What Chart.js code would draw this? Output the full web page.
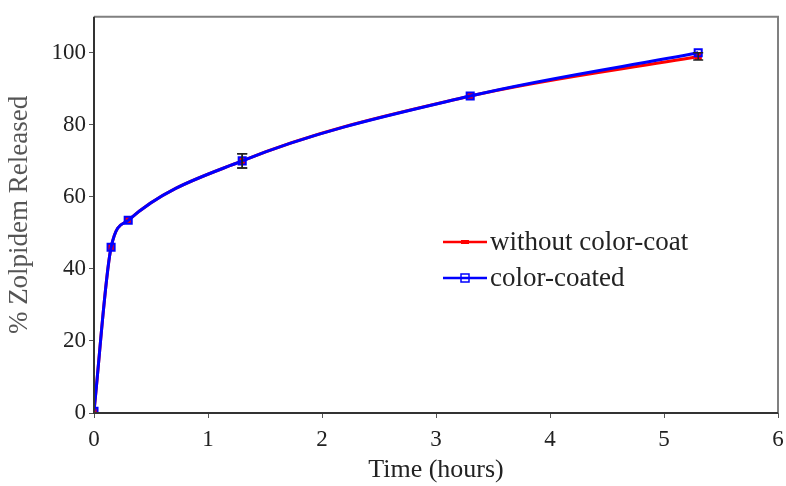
<!DOCTYPE html>
<html>
<head>
<meta charset="utf-8">
<script src="https://cdn.jsdelivr.net/npm/chart.js@4/dist/chart.umd.min.js"></script>
<style>
  html, body { margin: 0; padding: 0; background: #fff; }
  #wrap { width: 786px; height: 486px; }
</style>
</head>
<body>
<div id="wrap"><canvas id="releaseChart" width="786" height="486"></canvas></div>
<script>
// time points (hours)
const times = [0, 0.15, 0.3, 1.3, 3.3, 5.3];
const withoutCoat = [0.5, 46, 53.5, 70, 88, 99];
const colorCoated = [0.5, 46, 53.5, 70, 88, 100];
const withoutCoatErr = [0, 0.5, 0.8, 2, 0.6, 1];
const colorCoatedErr = [0, 0.5, 0.8, 2, 0.6, 0.6];
const xTicks = [0, 1, 2, 3, 4, 5, 6];
const yTicks = [0, 20, 40, 60, 80, 100];

const serif = "'Liberation Serif', 'Times New Roman', serif";
const toPoints = (ys) => times.map((t, i) => ({ x: t, y: ys[i] }));

// error bars drawn from the scales
const errorBars = {
  id: "errorBars",
  afterDatasetsDraw(chart) {
    const { ctx, scales: { x, y } } = chart;
    const sets = [withoutCoatErr, colorCoatedErr];
    ctx.save();
    ctx.strokeStyle = "#222";
    ctx.lineWidth = 1.5;
    sets.forEach((errs, d) => {
      const vals = d === 0 ? withoutCoat : colorCoated;
      errs.forEach((e, i) => {
        if (e < 1) return;
        const px = x.getPixelForValue(times[i]);
        const top = y.getPixelForValue(vals[i] + e);
        const bot = y.getPixelForValue(vals[i] - e);
        ctx.beginPath();
        ctx.moveTo(px, top); ctx.lineTo(px, bot);
        ctx.moveTo(px - 5, top); ctx.lineTo(px + 5, top);
        ctx.moveTo(px - 5, bot); ctx.lineTo(px + 5, bot);
        ctx.stroke();
      });
    });
    ctx.restore();
  }
};

// frame around plot and in-plot legend
const frameLegend = {
  id: "frameLegend",
  afterDraw(chart) {
    const { ctx, chartArea: a } = chart;
    ctx.save();
    ctx.strokeStyle = "#808080";
    ctx.lineWidth = 2;
    ctx.beginPath();
    ctx.moveTo(a.left, a.top); ctx.lineTo(a.right, a.top); ctx.lineTo(a.right, a.bottom);
    ctx.stroke();
    ctx.strokeStyle = "#333";
    ctx.lineWidth = 2;
    ctx.beginPath();
    ctx.moveTo(a.left, a.top); ctx.lineTo(a.left, a.bottom); ctx.lineTo(a.right, a.bottom);
    ctx.stroke();

    // legend
    const lx = 443, ly = 242, gap = 36;
    ctx.font = "27px " + serif;
    ctx.textBaseline = "middle";
    chart.data.datasets.forEach((ds, i) => {
      const yy = ly + i * gap;
      ctx.strokeStyle = ds.borderColor;
      ctx.lineWidth = 2.5;
      ctx.beginPath();
      ctx.moveTo(lx, yy); ctx.lineTo(lx + 44, yy);
      ctx.stroke();
      if (i === 0) {
        ctx.fillStyle = "#ff0000";
        ctx.fillRect(lx + 18, yy - 2, 8, 4);
      } else {
        ctx.strokeStyle = "#0000ff";
        ctx.lineWidth = 1.5;
        ctx.strokeRect(lx + 18, yy - 4, 8, 8);
      }
      ctx.fillStyle = "#222";
      ctx.fillText(ds.label, lx + 47, yy + 1);
    });
    ctx.restore();
  }
};

new Chart(document.getElementById("releaseChart"), {
  type: "line",
  data: {
    datasets: [
      {
        label: "without color-coat",
        data: toPoints(withoutCoat),
        borderColor: "#ff0000",
        borderWidth: 3,
        pointStyle: "rect",
        pointRadius: 3,
        pointBackgroundColor: "#ff0000",
        pointBorderColor: "#ff0000",
        cubicInterpolationMode: "monotone",
        order: 2
      },
      {
        label: "color-coated",
        data: toPoints(colorCoated),
        borderColor: "#0000ff",
        borderWidth: 3,
        pointStyle: "rect",
        pointRadius: 5,
        pointBorderWidth: 2,
        pointBackgroundColor: "rgba(0,0,0,0)",
        pointBorderColor: "#0000ff",
        cubicInterpolationMode: "monotone",
        order: 1
      }
    ]
  },
  options: {
    responsive: false,
    animation: false,
    layout: { padding: { top: 12, right: 8, left: 0, bottom: 0 } },
    scales: {
      x: {
        type: "linear",
        min: 0, max: 6,
        afterBuildTicks: (s) => { s.ticks = xTicks.map(v => ({ value: v })); },
        afterFit: (s) => { s.height = 73; s.paddingLeft = 0; s.paddingRight = 0; },
        ticks: { color: "#222", font: { family: serif, size: 23 }, padding: 8, maxRotation: 0 },
        grid: { display: true, drawOnChartArea: false, tickLength: 5, color: "#555", lineWidth: 1 },
        border: { display: false },
        title: { display: true, text: "Time (hours)", color: "#222", font: { family: serif, size: 26 }, padding: { top: -8, bottom: 0 } }
      },
      y: {
        min: 0, max: 110,
        afterBuildTicks: (s) => { s.ticks = yTicks.map(v => ({ value: v })); },
        afterFit: (s) => { s.width = 94; },
        ticks: { color: "#222", font: { family: serif, size: 23 }, padding: 3 },
        grid: { display: true, drawOnChartArea: false, tickLength: 5, color: "#555", lineWidth: 1 },
        border: { display: false },
        title: { display: true, text: "% Zolpidem Released", color: "#555", font: { family: serif, size: 27 }, padding: { bottom: 0 } }
      }
    },
    plugins: {
      legend: { display: false },
      tooltip: { enabled: false }
    }
  },
  plugins: [errorBars, frameLegend]
});
</script>
</body>
</html>
